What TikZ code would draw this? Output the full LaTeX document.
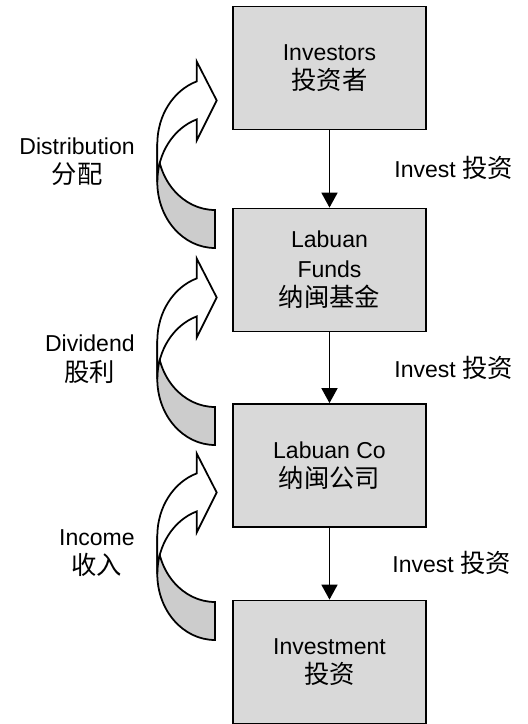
\documentclass[tikz,border=0pt]{standalone}
\usepackage{fontspec}
\setmainfont{Liberation Sans}
\newfontfamily\zh[Scale=1.1]{Noto Sans CJK SC}
\usetikzlibrary{arrows.meta}
\definecolor{boxgrey}{gray}{0.85}
\definecolor{bandgrey}{gray}{0.8}

\begin{document}
\begin{tikzpicture}[
    every node/.style={font=\fontsize{13.1}{16.8}\selectfont, align=center},
    box/.style={draw, line width=1pt, fill=boxgrey, minimum width=3.86cm, minimum height=2.46cm},
    flow/.style={line width=1pt, -{Triangle[width=0.32cm,length=0.3cm]}},
    lbl/.style={inner sep=0pt}
  ]
  \useasboundingbox (0,0) rectangle (10.56,14.48);

  % the four boxes
  \node[box] (investors) at (6.59,13.12) {Investors\\{\zh 投资者}};
  \node[box] (funds) at (6.59,9.08) {Labuan\\Funds\\{\zh 纳闽基金}};
  \node[box] (co) at (6.59,5.17) {Labuan Co\\{\zh 纳闽公司}};
  \node[box] (investment) at (6.59,1.24) {Investment\\{\zh 投资}};

  \draw[flow] (investors) -- (funds);
  \draw[flow] (funds) -- (co);
  \draw[flow] (co) -- (investment);

  \node[lbl, anchor=west] (invest1) at (7.88,11.12) {Invest {\zh 投资}};
  \node[lbl, anchor=west] (invest2) at (7.88,7.12) {Invest {\zh 投资}};
  \node[lbl, anchor=west] (invest3) at (7.84,3.22) {Invest {\zh 投资}};

  % curved arrows going back up
  \foreach \y in {13.25,9.31,5.41}{
    \begin{scope}[shift={(4.3,\y)}, line width=1pt]
      \filldraw[fill=bandgrey] (-1.154,-1.65) arc[start angle=180,end angle=270,x radius=1.154,y radius=1.32]
        -- (0,-3.73) arc[start angle=270,end angle=180,x radius=1.154,y radius=1.32] -- cycle;
      \filldraw[fill=white] (-0.366,-0.398) arc[start angle=108.5,end angle=180,x radius=1.154,y radius=1.32]
        -- (-1.154,-2.41) arc[start angle=180,end angle=108.5,x radius=1.154,y radius=1.32]
        -- (-0.366,-1.58) -- (0.034,-0.78) -- (-0.366,0) -- cycle;
    \end{scope}
  }

  \node[lbl, anchor=east] (distribution) at (2.7,11.25) {Distribution\\{\zh 分配}};
  \node[lbl, anchor=east] (dividend) at (2.7,7.3) {Dividend\\{\zh 股利}};
  \node[lbl, anchor=east] (income) at (2.7,3.42) {Income\\{\zh 收入}};
\end{tikzpicture}
\end{document}
